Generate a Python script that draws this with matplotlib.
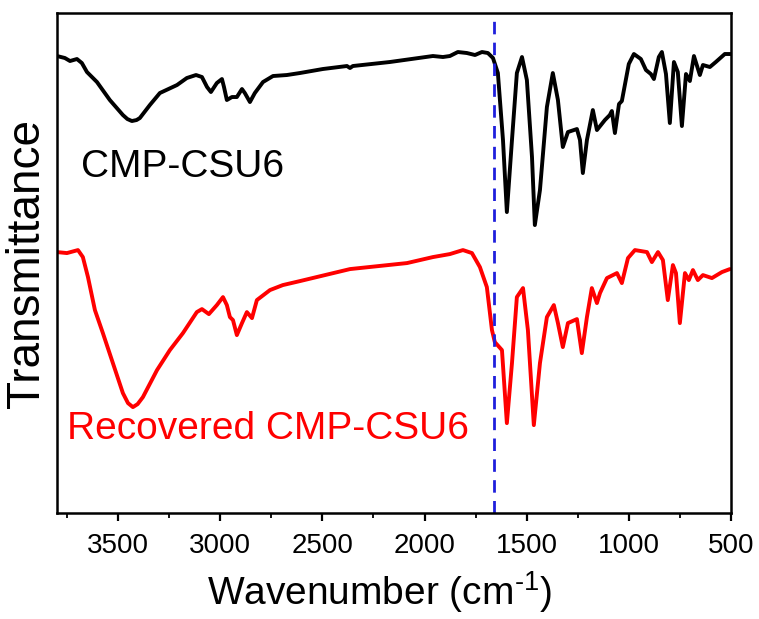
import matplotlib
matplotlib.use("Agg")
import matplotlib.pyplot as plt
from matplotlib.ticker import MultipleLocator

plt.rcParams['font.family'] = ['Liberation Sans', 'DejaVu Sans']
plt.rcParams['mathtext.fontset'] = 'custom'
plt.rcParams['mathtext.rm'] = 'Liberation Sans'
plt.rcParams['mathtext.it'] = 'Liberation Sans'

# CMP-CSU6 (black), wavenumber in cm-1, transmittance in arbitrary units (offset)
wn_fresh = [3800, 3761, 3736, 3702, 3678, 3653, 3604, 3541, 3477, 3455, 3433, 3410, 3394, 3345,
            3296, 3212, 3164, 3119, 3090, 3065, 3046, 3017, 2992, 2982, 2968, 2943,
            2919, 2894, 2880, 2855, 2831, 2791, 2742, 2674, 2610, 2498, 2380, 2365,
            2351, 2170, 1959, 1910, 1876, 1837, 1793, 1753, 1719, 1690, 1665, 1641,
            1616, 1597, 1572, 1548, 1523, 1499, 1474, 1460, 1435, 1401, 1372, 1347,
            1323, 1298, 1254, 1239, 1225, 1205, 1176, 1156, 1117, 1093, 1083, 1068,
            1048, 1034, 1000, 975, 941, 916, 892, 877, 853, 838, 818, 799, 779, 760,
            740, 720, 701, 681, 652, 637, 603, 574, 530, 500]
t_fresh = [457, 455, 452, 454, 450, 441, 431, 413, 398, 394, 392, 393, 395, 408,
           420, 428, 435, 438, 436, 426, 421, 430, 434, 426, 413, 416,
           416, 424, 420, 411, 420, 431, 437, 438, 440, 444, 447, 445,
           447, 451, 457, 456, 457, 461, 460, 458, 461, 460, 455, 440,
           373, 301, 373, 440, 456, 433, 356, 288, 323, 406, 440, 413,
           366, 381, 384, 373, 340, 373, 403, 383, 393, 398, 402, 380,
           409, 412, 449, 459, 454, 443, 439, 434, 456, 461, 439, 390, 451, 441,
           387, 439, 432, 457, 438, 448, 446, 451, 459, 459]

# Recovered CMP-CSU6 (red)
wn_rec = [3800, 3751, 3697, 3673, 3648, 3614, 3575, 3526, 3477, 3452, 3428, 3405, 3379, 3310,
          3247, 3183, 3115, 3090, 3056, 3017, 2987, 2968, 2953, 2938, 2919, 2894,
          2870, 2845, 2821, 2757, 2694, 2610, 2365, 2086, 1959, 1876, 1812, 1768,
          1729, 1695, 1670, 1656, 1621, 1597, 1572, 1548, 1518, 1494, 1465, 1435,
          1401, 1367, 1347, 1323, 1298, 1254, 1230, 1205, 1181, 1156, 1141, 1107,
          1058, 1034, 1004, 970, 911, 887, 857, 833, 809, 784, 769, 750, 725, 706,
          686, 662, 637, 593, 544, 505]
t_rec = [261, 260, 263, 256, 236, 203, 180, 150, 120, 110, 106, 109, 116, 143,
         163, 180, 201, 204, 199, 208, 216, 208, 196, 193, 178, 190,
         201, 195, 213, 223, 228, 232, 244, 250, 256, 259, 263, 260,
         246, 226, 183, 171, 163, 90, 150, 216, 225, 183, 88, 150,
         196, 208, 190, 166, 190, 194, 160, 196, 225, 210, 220, 235,
         240, 230, 255, 263, 261, 251, 261, 253, 213, 248, 240, 190, 240, 233,
         243, 233, 238, 235, 241, 244]

marker_wn = 1660

fig = plt.figure(figsize=(7.59, 6.19), dpi=100)
ax = fig.add_axes([0.075, 0.171, 0.888, 0.808])

ax.plot(wn_fresh, t_fresh, color='black', lw=2.8, solid_joinstyle='round', solid_capstyle='round')
ax.plot(wn_rec, t_rec, color='#ff0000', lw=2.8, solid_joinstyle='round', solid_capstyle='round')
ax.axvline(marker_wn, color='#1f1fdc', lw=2, ls=(0, (4.5, 3)))

ax.text(3680, 346, 'CMP-CSU6', color='black', fontsize=28, ha='left', va='center')
ax.text(3752, 84, 'Recovered CMP-CSU6', color='#ff0000', fontsize=28, ha='left', va='center')

ax.set_xlim(3800, 500)
ax.set_ylim(0, 500)
ax.xaxis.set_major_locator(MultipleLocator(500))
ax.xaxis.set_minor_locator(MultipleLocator(250))
ax.set_yticks([])
ax.tick_params(axis='x', which='major', direction='out', length=6, width=1.6, labelsize=20, pad=8)
ax.tick_params(axis='x', which='minor', direction='out', length=3.5, width=1.3)
for s in ax.spines.values():
    s.set_linewidth(1.8)

ax.set_xlabel(r'Wavenumber (cm$^{\text{-1}}$)', fontsize=28)
ax.xaxis.set_label_coords(0.478, -0.112)
ax.set_ylabel('Transmittance', fontsize=33, labelpad=6)

fig.savefig('out.png', dpi=100)
